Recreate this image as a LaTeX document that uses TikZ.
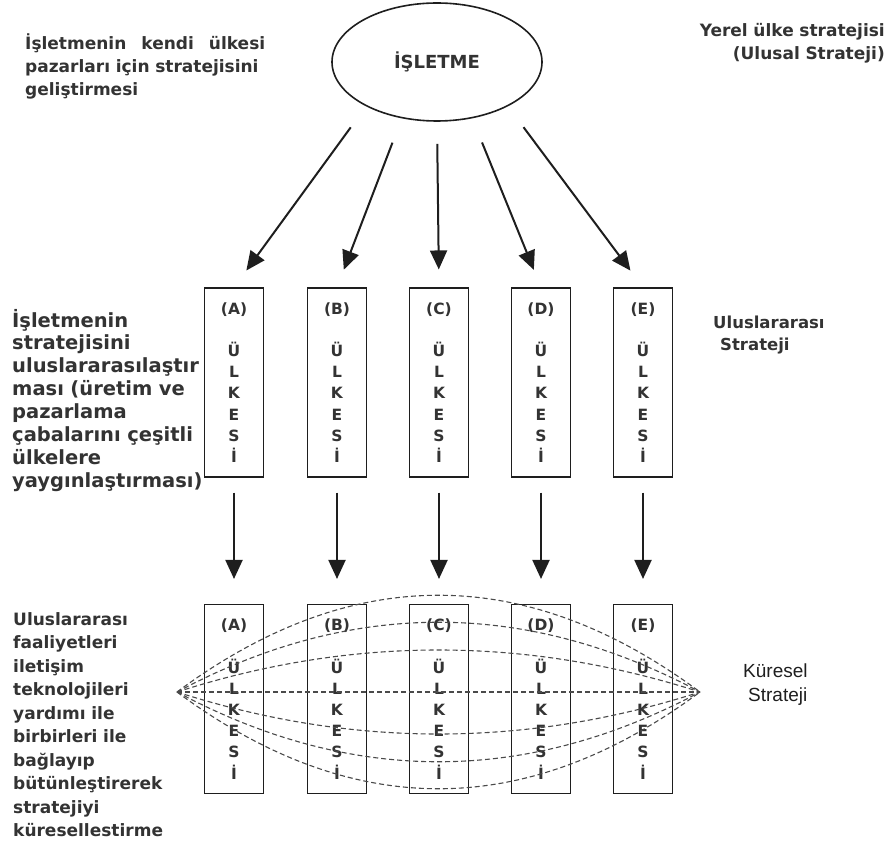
\documentclass[tikz,border=0pt]{standalone}
\usepackage{fontspec}
\setmainfont{DejaVu Sans}
\newfontfamily\arialfont{Liberation Sans}
\usetikzlibrary{arrows.meta,shapes.geometric}
\definecolor{fg}{HTML}{333333}
\definecolor{stroke}{HTML}{1E1E1E}
\definecolor{dash}{HTML}{4A4A4A}

\begin{document}
\begin{tikzpicture}[
  x=1pt, y=-1pt,
  >={Triangle[length=19pt,width=17pt]},
  lbl/.style={text=fg, align=left, inner sep=0pt, anchor=base west, font=\bfseries\fontsize{17}{23}\selectfont},
  ulke/.style={draw=stroke, line width=1.1pt, minimum width=59pt, minimum height=189pt, inner sep=0pt, align=center, text=fg, font=\bfseries\fontsize{15.5}{21.2}\selectfont},
  ok/.style={->, draw=stroke, line width=2pt},
  bag/.style={draw=dash, line width=1.1pt, dash pattern=on 5pt off 3pt},
]
\useasboundingbox (0,0) rectangle (888,842);

% firm at the top
\node[draw=stroke, line width=1.6pt, ellipse, minimum width=210pt, minimum height=118pt, inner sep=0pt, text=fg,
  font=\bfseries\fontsize{18}{22}\selectfont] (isletme) at (437,62) {İŞLETME};
\node[lbl, text width=260pt] (yerelac) at (25,50)
  {\makebox[240pt][l]{İşletmenin\hfill kendi\hfill ülkesi}\\pazarları için stratejisini\\geliştirmesi};
\node[lbl, text width=220pt, align=right, anchor=base east] (yerel) at (885,37)
  {Yerel ülke stratejisi\\(Ulusal Strateji)};

% first row of countries
\node[ulke] (ulkeA) at (234,382.5) {(A)\\[21.2pt]Ü\\L\\K\\E\\S\\İ};
\node[ulke] (ulkeB) at (337,382.5) {(B)\\[21.2pt]Ü\\L\\K\\E\\S\\İ};
\node[ulke] (ulkeC) at (439,382.5) {(C)\\[21.2pt]Ü\\L\\K\\E\\S\\İ};
\node[ulke] (ulkeD) at (541,382.5) {(D)\\[21.2pt]Ü\\L\\K\\E\\S\\İ};
\node[ulke] (ulkeE) at (643,382.5) {(E)\\[21.2pt]Ü\\L\\K\\E\\S\\İ};
\node[lbl, text width=240pt, font=\bfseries\fontsize{19.5}{22.9}\selectfont] (ulusac) at (12,327)
  {İşletmenin\\stratejisini\\uluslararasılaştır\\ması (üretim ve\\pazarlama\\çabalarını çeşitli\\ülkelere\\yaygınlaştırması)};
\node[lbl, text width=150pt, font=\bfseries\fontsize{16.5}{22}\selectfont] (ulus) at (713,328)
  {Uluslararası\\\hspace*{7pt}Strateji};

% second row of countries
\node[ulke] (kulkeA) at (234,699) {(A)\\[21.2pt]Ü\\L\\K\\E\\S\\İ};
\node[ulke] (kulkeB) at (337,699) {(B)\\[21.2pt]Ü\\L\\K\\E\\S\\İ};
\node[ulke] (kulkeC) at (439,699) {(C)\\[21.2pt]Ü\\L\\K\\E\\S\\İ};
\node[ulke] (kulkeD) at (541,699) {(D)\\[21.2pt]Ü\\L\\K\\E\\S\\İ};
\node[ulke] (kulkeE) at (643,699) {(E)\\[21.2pt]Ü\\L\\K\\E\\S\\İ};
\node[lbl, text width=200pt, font=\bfseries\fontsize{17}{23.5}\selectfont] (kureac) at (13,625)
  {Uluslararası\\faaliyetleri\\iletişim\\teknolojileri\\yardımı ile\\birbirleri ile\\bağlayıp\\bütünleştirerek\\stratejiyi\\küresellestirme};
\node[lbl, text width=120pt, text=stroke, font=\arialfont\fontsize{19}{24}\selectfont] (kuresel) at (743,677)
  {Küresel\\\hspace*{5pt}Strateji};

% firm -> countries
\draw[ok, shorten <=26pt, shorten >=21pt] (isletme.212) -- (ulkeA.north);
\draw[ok, shorten <=26pt, shorten >=19pt] (isletme.238) -- (ulkeB.north);
\draw[ok, shorten <=22pt, shorten >=18pt] (isletme.south) -- (ulkeC.north);
\draw[ok, shorten <=26pt, shorten >=19pt] (isletme.302) -- (ulkeD.north);
\draw[ok, shorten <=26pt, shorten >=21pt] (isletme.328) -- (ulkeE.north);

% first row -> second row
\draw[ok, shorten <=15pt, shorten >=25pt] (ulkeA.south) -- (kulkeA.north);
\draw[ok, shorten <=15pt, shorten >=25pt] (ulkeB.south) -- (kulkeB.north);
\draw[ok, shorten <=15pt, shorten >=25pt] (ulkeC.south) -- (kulkeC.north);
\draw[ok, shorten <=15pt, shorten >=25pt] (ulkeD.south) -- (kulkeD.north);
\draw[ok, shorten <=15pt, shorten >=25pt] (ulkeE.south) -- (kulkeE.north);

% network linking the countries
\coordinate (sol) at (177,692);
\coordinate (sag) at (700,692);
\draw[bag] (sol) -- (sag);
\draw[bag] (sol) .. controls +(174,-56) and +(-174,-56) .. (sag);
\draw[bag] (sol) .. controls +(174,-93) and +(-174,-93) .. (sag);
\draw[bag] (sol) .. controls +(174,-129) and +(-174,-129) .. (sag);
\draw[bag] (sol) .. controls +(174,56) and +(-174,56) .. (sag);
\draw[bag] (sol) .. controls +(174,93) and +(-174,93) .. (sag);
\draw[bag] (sol) .. controls +(174,129) and +(-174,129) .. (sag);
\end{tikzpicture}
\end{document}
